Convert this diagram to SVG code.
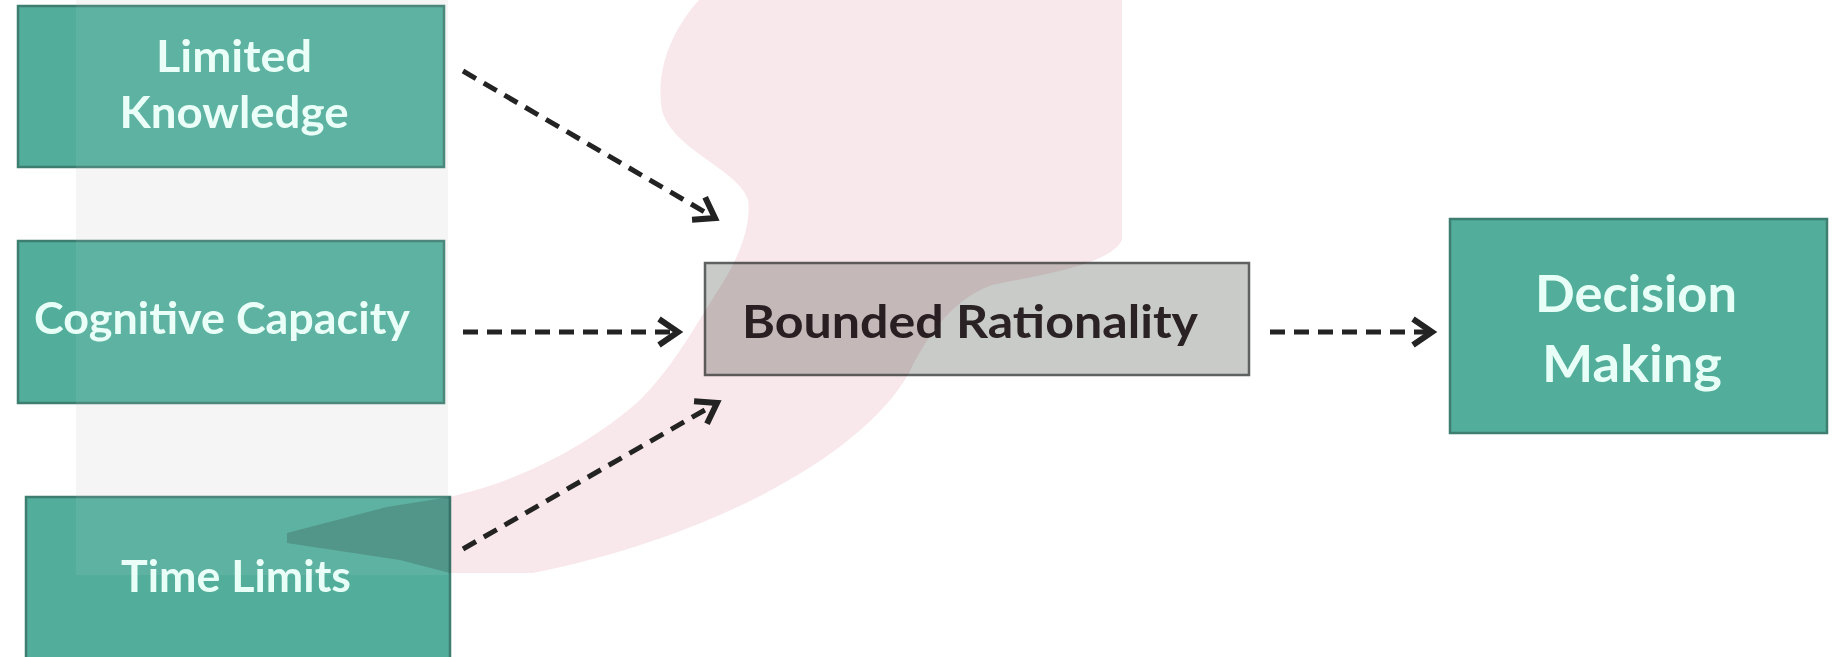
<svg xmlns="http://www.w3.org/2000/svg" width="1832" height="657" viewBox="0 0 1832 657">
  <defs>
    <style>
      .teal { fill: #52ad9a; stroke: #3e7e71; stroke-width: 2.5; }
      .gray { fill: #c9cbc9; stroke: #5e6260; stroke-width: 2.5; }
      .lbl { font-family: Lato, "Open Sans", "Liberation Sans", sans-serif; font-weight: bold; fill: #e8fff7; text-anchor: middle; }
      .dark { font-family: Lato, "Open Sans", "Liberation Sans", sans-serif; font-weight: bold; fill: #2a2224; text-anchor: middle; }
      .conn { fill: none; stroke: #232323; stroke-width: 5; stroke-dasharray: 15 9; marker-end: url(#chev); }
    </style>
    <marker id="chev" markerUnits="userSpaceOnUse" markerWidth="34" markerHeight="34" refX="27" refY="16" orient="auto" viewBox="0 0 34 34">
      <path d="M8,3 L27,16 L8,29" fill="none" stroke="#232323" stroke-width="6" stroke-linejoin="miter"/>
    </marker>
    <path id="pinkShape" d="M699,0 C672,30 655,70 662,110 C672,150 740,170 748,200 C752,230 735,265 715,295 C690,335 670,370 640,400 C590,445 520,480 461,494 L450,497 L387,507 L287,533 L287,543 L400,560 L450,573 L533,573 C700,540 860,460 909,373 C925,340 950,300 992,285 C1040,275 1110,265 1122,240 L1122,0 Z"/>
    <clipPath id="timeClip">
      <rect x="26" y="497" width="424" height="175"/>
    </clipPath>
  </defs>

  <rect x="0" y="0" width="1832" height="657" fill="#ffffff"/>
  <g id="watermark-under">
    <rect x="76" y="0" width="372" height="575" fill="#f5f5f5"/>
  </g>

  <g id="node-limited-knowledge">
    <rect class="teal" x="18" y="6" width="426" height="161"/>
    <text class="lbl" x="234" y="72" font-size="43" textLength="156" lengthAdjust="spacingAndGlyphs">Limited</text>
    <text class="lbl" x="234" y="128" font-size="43" textLength="229" lengthAdjust="spacingAndGlyphs">Knowledge</text>
  </g>

  <g id="node-cognitive-capacity">
    <rect class="teal" x="18" y="241" width="426" height="162"/>
    <text class="lbl" x="222" y="334" font-size="43" textLength="376" lengthAdjust="spacingAndGlyphs">Cognitive Capacity</text>
  </g>

  <g id="node-time-limits">
    <rect class="teal" x="26" y="497" width="424" height="175"/>
    <text class="lbl" x="236" y="592" font-size="43" textLength="230" lengthAdjust="spacingAndGlyphs">Time Limits</text>
  </g>

  <g id="node-bounded-rationality">
    <rect class="gray" x="705" y="263" width="544" height="112"/>
    <text class="dark" x="970" y="338" font-size="46" textLength="456" lengthAdjust="spacingAndGlyphs">Bounded  Rationality</text>
  </g>

  <g id="node-decision-making">
    <rect class="teal" x="1450" y="219" width="377" height="214"/>
    <text class="lbl" x="1636" y="312" font-size="51" textLength="202" lengthAdjust="spacingAndGlyphs">Decision</text>
    <text class="lbl" x="1632" y="382" font-size="51" textLength="180" lengthAdjust="spacingAndGlyphs">Making</text>
  </g>

  <g id="watermark-over">
    <rect x="76" y="0" width="372" height="575" fill="#ffffff" opacity="0.07"/>
    <use href="#pinkShape" fill="#f9e8eb" style="mix-blend-mode: multiply"/>
    <use href="#pinkShape" fill="#2e6e62" opacity="0.22" clip-path="url(#timeClip)"/>
  </g>

  <g id="connectors">
    <path class="conn" d="M463,71 L715,218"/>
    <path class="conn" d="M463,332 L678,332"/>
    <path class="conn" d="M463,549 L717,403"/>
    <path class="conn" d="M1270,332 L1432,332"/>
  </g>
</svg>
